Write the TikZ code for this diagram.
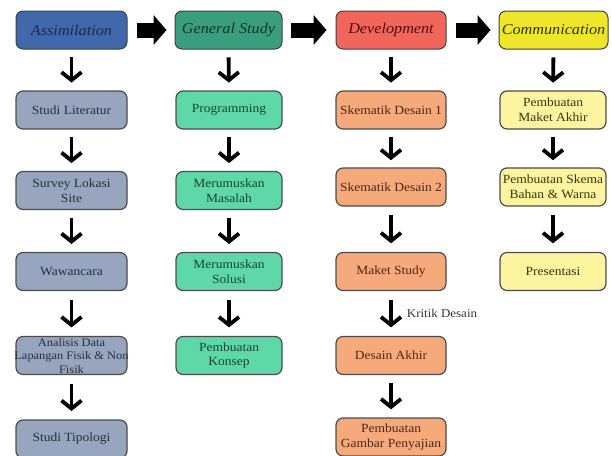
\documentclass[tikz,border=0pt]{standalone}
\usepackage{fontspec}
\setmainfont{Liberation Serif}[FakeStretch=1.08]
\usetikzlibrary{arrows.meta,calc}
\definecolor{hA}{RGB}{64,104,170}
\definecolor{hB}{RGB}{58,158,126}
\definecolor{hC}{RGB}{241,101,91}
\definecolor{hD}{RGB}{237,230,42}
\definecolor{tA}{RGB}{24,40,88}
\definecolor{tB}{RGB}{14,56,44}
\definecolor{tC}{RGB}{80,14,14}
\definecolor{tD}{RGB}{56,50,0}
\definecolor{bA}{RGB}{151,166,190}
\definecolor{bB}{RGB}{95,216,169}
\definecolor{bC}{RGB}{246,169,123}
\definecolor{bD}{RGB}{252,244,158}
\definecolor{xA}{RGB}{40,46,62}
\definecolor{xB}{RGB}{22,68,50}
\definecolor{xC}{RGB}{78,38,20}
\definecolor{xD}{RGB}{60,52,12}
\begin{document}
\begin{tikzpicture}[x=1pt,y=-1pt,
  hdr/.style={draw=black!75, line width=1pt, rounded corners=7pt, minimum height=38pt, inner sep=0pt, font=\fontsize{15}{17}\selectfont\itshape},
  box/.style={draw=black!70, line width=1.2pt, rounded corners=7pt, minimum height=38pt, align=center, font=\fontsize{12.5}{14.7}\selectfont, inner sep=1pt},
  darr/.style={line width=3.8pt, -{Straight Barb[length=8pt,width=20pt]}},
  bigarr/.style={line width=15pt, -{Triangle[length=13pt,width=30pt,line width=0pt]}}]
\useasboundingbox (0,0) rectangle (612,455);

% headers
\node[hdr, fill=hA, text=tA, minimum width=111pt] (h1) at (71.5,30) {Assimilation};
\node[hdr, fill=hB, text=tB, minimum width=107pt] (h2) at (228.5,30) {General Study};
\node[hdr, fill=hC, text=tC, minimum width=110pt] (h3) at (391,30) {Development};
\node[hdr, fill=hD, text=tD, minimum width=109pt] (h4) at (553.5,30) {Communication};

\draw[bigarr] ($(h1.east)+(9,0)$) -- ($(h2.west)+(-8,0)$);
\draw[bigarr] ($(h2.east)+(8,0)$) -- ($(h3.west)+(-9,0)$);
\draw[bigarr] ($(h3.east)+(9,0)$) -- ($(h4.west)+(-8,0)$);

% column 1
\begin{scope}[every node/.append style={box, fill=bA, text=xA, minimum width=111pt}]
\node (a1) at (71.5,110) {Studi Literatur};
\node (a2) at (71.5,190.5) {Survey Lokasi\\Site};
\node (a3) at (71.5,271.5) {Wawancara};
\node (a4) at (71.5,355.5) {};
\node (a5) at (71.5,439) {Studi Tipologi};
\end{scope}
\node[align=center, font=\fontsize{11.5}{13.3}\selectfont, text=xA, inner sep=0pt] (a4t) at (71.5,356) {Analisis Data\\Lapangan Fisik \& Non\\Fisik};

% column 2
\begin{scope}[every node/.append style={box, fill=bB, text=xB, minimum width=106pt}]
\node (b1) at (229,110) {Programming};
\node (b2) at (229,190.5) {Merumuskan\\Masalah};
\node (b3) at (229,271.5) {Merumuskan\\Solusi};
\node (b4) at (229,355.5) {Pembuatan\\Konsep};
\end{scope}

% column 3
\begin{scope}[every node/.append style={box, fill=bC, text=xC, minimum width=110pt}]
\node (c1) at (391,110) {Skematik Desain 1};
\node (c2) at (391,187) {Skematik Desain 2};
\node (c3) at (391,271.5) {Maket Study};
\node (c4) at (391,355.5) {Desain Akhir};
\node (c5) at (391,437) {Pembuatan\\Gambar Penyajian};
\end{scope}

% column 4
\begin{scope}[every node/.append style={box, fill=bD, text=xD, minimum width=106pt}]
\node (d1) at (553,110) {Pembuatan\\Maket Akhir};
\node (d2) at (553,187) {Pembuatan Skema\\Bahan \& Warna};
\node (d3) at (553,271.5) {Presentasi};
\end{scope}

% down arrows
\foreach \p/\q in {h1/a1,a1/a2,a2/a3,a3/a4,a4/a5,
                   h2/b1,b1/b2,b2/b3,b3/b4,
                   h3/c1,c1/c2,c2/c3,c4/c5,
                   h4/d1,d1/d2,d2/d3}
  \draw[darr] ($(\p.south)!0.19!(\q.north)$) -- ($(\q.north)!0.19!(\p.south)$);
\draw[darr] ($(c3.south)!0.19!(c4.north)$) -- ($(c4.north)!0.19!(c3.south)$)
  node[midway, right=14pt, font=\fontsize{12}{14}\selectfont, text=black!80, inner sep=0pt] (kd) {Kritik Desain};
\end{tikzpicture}
\end{document}
